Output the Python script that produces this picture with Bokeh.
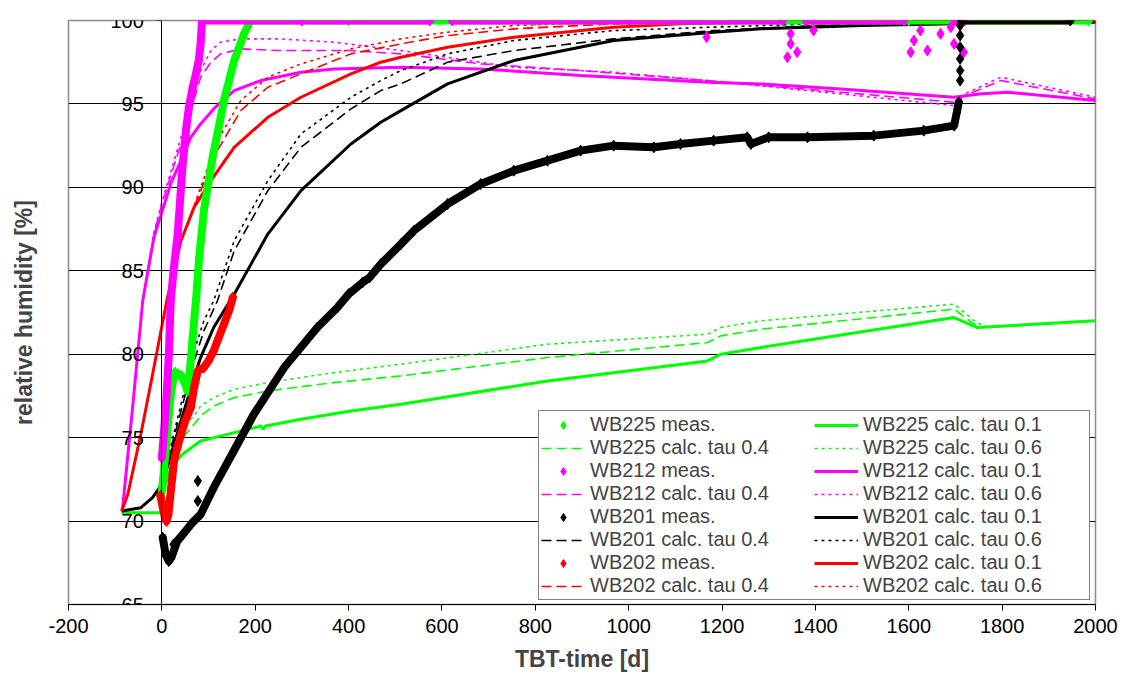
from bokeh.plotting import figure
from bokeh.models import Range1d, LinearAxis, FixedTicker, Legend, LegendItem, PrintfTickFormatter
from bokeh.embed import file_html
from bokeh.resources import INLINE

NaN = float("nan")

# ---------------- data ----------------
x_ticks = [-200, 0, 200, 400, 600, 800, 1000, 1200, 1400, 1600, 1800, 2000]
y_ticks = [65, 70, 75, 80, 85, 90, 95, 100]

# WB225 measured (green)
wb225_meas_x = [0, 3, 6, 10, 15, 20, 28, 35, 42, 50, 55, 60, 66, 73, 80, 90, 98, 110, 119, 133, 155, 176, 190,
                400, 800, 1200, 1600, 1985]
wb225_meas_y = [71.8, 72.6, 73.6, 74.8, 76.4, 77.8, 78.9, 78.8, 78.7, 78.2, 77.8, 79.0, 81.0, 83.2, 85.8, 88.6, 90.0,
                92.0, 93.2, 95.2, 97.6, 99.2, 100.0, 100.0, 100.0, 100.0, 100.0, 100.0]

# WB212 measured (magenta)
wb212_meas_x = [0, 5, 10, 15, 19, 25, 34, 44, 52, 58, 66, 73, 79, 83, 86, 300, 574, NaN, 622, 1000, 1330, NaN,
                1380, 1590, NaN, 1700, 1720]
wb212_meas_y = [73.8, 75.5, 77.5, 80.0, 83.2, 85.0, 87.2, 91.2, 93.5, 94.8, 96.0, 96.8, 97.6, 98.6, 100.0, 100.0,
                100.0, NaN, 100.0, 100.0, 100.0, NaN, 100.0, 100.0, NaN, 100.0, 100.0]
wb212_scatter_x = [1167, 1340, 1347, 1347, 1361, 1396, 1604, 1611, 1625, 1640, 1668, 1690, 1697, 1718]
wb212_scatter_y = [99.0, 97.8, 98.6, 99.2, 98.1, 99.4, 98.1, 98.8, 99.4, 98.2, 99.2, 99.6, 98.6, 98.1]

# WB201 measured (black)
wb201_meas_x = [2, 8, 15, 20, 33, 45, 62, 83, 111, 154, 197, 262, 333, 376, 400, 430, 445, 469, 512, 540, 612,
                683, 754, 826, 897, 968, 1054, 1111, 1182, 1254, 1262, 1300, 1383, 1525, 1632, 1697, 1703, 1707,
                NaN, 1712, 1946]
wb201_meas_y = [69.0, 68.0, 67.6, 67.8, 68.8, 69.2, 69.8, 70.4, 72.0, 74.2, 76.4, 79.2, 81.6, 82.8, 83.6, 84.3,
                84.6, 85.4, 86.6, 87.4, 89.0, 90.2, 91.0, 91.6, 92.2, 92.5, 92.4, 92.6, 92.8, 93.0, 92.6, 93.0,
                93.0, 93.1, 93.4, 93.7, 94.5, 95.1, NaN, 100.0, 100.0]
wb201_scatter_x = [77, 77, 25, 1710, 1710, 1710, 1710, 1710, 1710]
wb201_scatter_y = [72.4, 71.2, 68.6, 96.4, 97.0, 97.7, 98.4, 99.1, 99.7]

# WB202 measured (red)
wb202_meas_x = [-3, 2, 6, 10, 14, 20, 26, 33, 41, 50, 62, 69, 77, 90, 100, 111, 122, 133, 144, 152]
wb202_meas_y = [71.5, 70.8, 70.3, 70.0, 70.4, 72.0, 73.6, 74.4, 75.2, 76.0, 76.8, 78.0, 79.0, 79.2, 79.6, 80.2,
                81.0, 81.8, 82.6, 83.4]

# WB225 calculated
wb225_t01_x = [-86, -5, 0, 5, 19, 44, 83, 155, 212, 217, 222, 298, 405, 512, 826, 1169, 1197, 1283, 1697, 1747,
               1811, 2000]
wb225_t01_y = [70.5, 70.5, 70.6, 72.0, 73.2, 74.0, 74.8, 75.3, 75.7, 75.5, 75.7, 76.1, 76.6, 77.0, 78.4, 79.6,
               80.0, 80.4, 82.2, 81.6, 81.7, 82.0]
wb225_t04_x = [-86, 0, 5, 20, 45, 69, 83, 111, 155, 227, 369, 512, 826, 1169, 1197, 1283, 1697, 1740, 1760, 2000]
wb225_t04_y = [70.5, 70.5, 72.3, 74.0, 75.0, 75.8, 76.3, 76.9, 77.4, 77.8, 78.3, 78.7, 79.8, 80.7, 81.1, 81.5,
               82.7, 81.8, 81.6, 82.0]
wb225_t06_x = [-86, 0, 5, 20, 45, 69, 83, 111, 155, 227, 369, 512, 826, 1169, 1197, 1283, 1697, 1745, 1770, 2000]
wb225_t06_y = [70.5, 70.5, 72.4, 74.3, 75.6, 76.3, 76.9, 77.4, 77.9, 78.3, 78.9, 79.4, 80.6, 81.2, 81.6, 82.0,
               83.0, 81.9, 81.6, 82.0]

# WB212 calculated
wb212_t01_x = [-86, -84, -62, -41, -17, 0, 20, 41, 62, 83, 111, 126, 155, 212, 298, 369, 512, 683, 897, 1169,
               1283, 1454, 1697, 1750, 1811, 2000]
wb212_t01_y = [70.6, 70.8, 77.0, 83.2, 87.0, 88.5, 90.3, 91.6, 93.0, 93.8, 94.7, 95.1, 95.8, 96.4, 96.9, 97.1,
               97.2, 97.1, 96.7, 96.3, 96.2, 95.9, 95.4, 95.6, 95.7, 95.2]
wb212_t04_x = [-86, -84, -62, -41, -17, 0, 20, 41, 62, 83, 105, 126, 169, 250, 400, 512, 683, 897, 1169, 1454,
               1697, 1720, 1797, 2000]
wb212_t04_y = [70.6, 70.8, 77.0, 83.2, 87.2, 89.0, 90.8, 92.6, 94.6, 96.6, 97.5, 98.0, 98.3, 98.2, 98.2, 98.0,
               97.4, 97.0, 96.4, 95.7, 95.1, 95.5, 96.4, 95.3]
wb212_t06_x = [-86, -84, -62, -41, -17, 0, 20, 41, 62, 83, 105, 126, 169, 250, 369, 512, 754, 968, 1169, 1454,
               1697, 1720, 1797, 2000]
wb212_t06_y = [70.6, 70.8, 77.0, 83.2, 87.3, 89.1, 91.0, 93.0, 95.2, 97.0, 98.2, 98.7, 98.9, 98.9, 98.7, 98.2,
               97.2, 96.9, 96.4, 95.6, 94.9, 95.6, 96.6, 95.4]

# WB201 calculated
wb201_t01_x = [-86, -45, -20, 0, 20, 41, 69, 83, 111, 155, 227, 298, 405, 469, 512, 612, 754, 968, 1182, 1283,
               1500, 1700, 1710, 2000]
wb201_t01_y = [70.6, 70.8, 71.4, 72.2, 74.0, 76.0, 78.6, 79.8, 81.6, 83.6, 87.2, 89.8, 92.6, 93.9, 94.6, 96.2,
               97.6, 98.8, 99.3, 99.5, 99.7, 99.8, 99.9, 99.9]
wb201_t04_x = [-86, -45, -20, 0, 20, 41, 69, 90, 119, 155, 227, 298, 405, 469, 512, 612, 754, 968, 1182, 1400,
               1700, 2000]
wb201_t04_y = [70.6, 70.8, 71.4, 72.2, 74.4, 76.6, 79.6, 81.4, 83.2, 86.2, 89.8, 92.4, 94.7, 95.8, 96.2, 97.5,
               98.2, 98.9, 99.4, 99.7, 99.9, 99.9]
wb201_t06_x = [-86, -45, -20, 0, 20, 41, 69, 90, 111, 155, 227, 298, 405, 469, 512, 612, 754, 968, 1182, 1400,
               1700, 2000]
wb201_t06_y = [70.6, 70.8, 71.4, 72.2, 74.6, 77.0, 80.2, 82.0, 83.2, 86.8, 90.4, 93.2, 95.4, 96.4, 97.0, 98.0,
               98.8, 99.4, 99.6, 99.8, 99.9, 99.9]

# WB202 calculated
wb202_t01_x = [-86, -73, -45, -17, 5, 12, 41, 69, 105, 155, 227, 298, 405, 469, 512, 612, 754, 968, 1111, 1300,
               1960, 2000]
wb202_t01_y = [70.6, 71.6, 75.2, 79.2, 82.4, 83.4, 86.8, 88.8, 90.4, 92.4, 94.2, 95.4, 96.8, 97.5, 97.8, 98.4,
               99.0, 99.6, 99.8, 99.9, 100.0, 100.0]
wb202_t04_x = [-86, -73, -45, -17, 5, 12, 41, 69, 77, 119, 169, 227, 298, 405, 512, 612, 754, 968, 1200, 1960,
               2000]
wb202_t04_y = [70.6, 71.6, 75.2, 79.2, 82.4, 83.4, 86.8, 88.8, 89.4, 92.2, 94.6, 96.0, 96.8, 98.0, 98.6, 99.1,
               99.5, 99.8, 99.9, 100.0, 100.0]
wb202_t06_x = [-86, -73, -45, -17, 5, 12, 41, 69, 83, 119, 169, 227, 298, 405, 512, 612, 754, 968, 1200, 1960,
               2000]
wb202_t06_y = [70.6, 71.6, 75.2, 79.2, 82.4, 83.4, 86.8, 88.9, 90.0, 92.8, 95.2, 96.6, 97.4, 98.3, 98.9, 99.3,
               99.7, 99.9, 99.9, 100.0, 100.0]

# ---------------- styling ----------------
FONT = "Liberation Sans"
GREEN, MAGENTA, BLACK, RED = "#00FF00", "#FF00FF", "#000000", "#FF0000"

p = figure(width=1126, height=686, x_range=Range1d(-200, 2000), y_range=Range1d(65, 100),
           output_backend="svg", toolbar_location=None,
           min_border_left=68, min_border_right=31, min_border_top=20, min_border_bottom=82)
p.background_fill_color = "white"
p.border_fill_color = "white"
p.outline_line_color = "#8c8c8c"
p.outline_line_width = 1.5

# bottom axis
xa = p.xaxis[0]
xa.ticker = FixedTicker(ticks=x_ticks)
xa.formatter = PrintfTickFormatter(format="%d")
xa.axis_line_color = "black"
xa.major_tick_in = 0
xa.major_tick_out = 6
xa.minor_tick_line_color = None
xa.major_label_text_font = FONT
xa.major_label_text_font_size = "20px"
xa.major_label_text_color = "black"
xa.major_label_standoff = 8
xa.axis_label = "TBT-time [d]"
xa.axis_label_text_font = FONT
xa.axis_label_text_font_style = "bold"
xa.axis_label_text_font_size = "23px"
xa.axis_label_standoff = 10

# left axis: only the label
yl = p.yaxis[0]
yl.ticker = FixedTicker(ticks=[])
yl.axis_line_color = None
yl.major_tick_line_color = None
yl.minor_tick_line_color = None
yl.major_label_text_font_size = "0px"
yl.axis_label = "relative humidity [%]"
yl.axis_label_text_font = FONT
yl.axis_label_text_font_style = "bold"
yl.axis_label_text_font_size = "23px"
yl.axis_label_standoff = 32

# y axis crossing at x = 0
ya = LinearAxis(fixed_location=0, ticker=FixedTicker(ticks=y_ticks),
                formatter=PrintfTickFormatter(format="%d"),
                axis_line_color="black", axis_line_width=1,
                major_tick_in=0, major_tick_out=5, minor_tick_line_color=None,
                major_label_text_font=FONT, major_label_text_font_size="20px",
                major_label_text_color="black", major_label_standoff=13)
p.add_layout(ya, "left")

p.xgrid.visible = False
p.ygrid[0].ticker = FixedTicker(ticks=y_ticks)
p.ygrid.grid_line_color = "black"
p.ygrid.grid_line_width = 1

calc = [
    (GREEN, wb225_t01_x, wb225_t01_y, wb225_t04_x, wb225_t04_y, wb225_t06_x, wb225_t06_y),
    (MAGENTA, wb212_t01_x, wb212_t01_y, wb212_t04_x, wb212_t04_y, wb212_t06_x, wb212_t06_y),
    (BLACK, wb201_t01_x, wb201_t01_y, wb201_t04_x, wb201_t04_y, wb201_t06_x, wb201_t06_y),
    (RED, wb202_t01_x, wb202_t01_y, wb202_t04_x, wb202_t04_y, wb202_t06_x, wb202_t06_y),
]
calc_r = []
for col, x1, y1, x4, y4, x6, y6 in calc:
    r1 = p.line(x1, y1, line_color=col, line_width=3)
    r4 = p.line(x4, y4, line_color=col, line_width=1.6, line_dash="10 5")
    r6 = p.line(x6, y6, line_color=col, line_width=1.6, line_dash="3 4")
    calc_r.append((r1, r4, r6))

meas = [
    (GREEN, wb225_meas_x, wb225_meas_y, [], []),
    (MAGENTA, wb212_meas_x, wb212_meas_y, wb212_scatter_x, wb212_scatter_y),
    (BLACK, wb201_meas_x, wb201_meas_y, wb201_scatter_x, wb201_scatter_y),
    (RED, wb202_meas_x, wb202_meas_y, [], []),
]
meas_r = []
for col, mx, my, sx, sy in meas:
    p.line(mx, my, line_color=col, line_width=8, line_join="round", line_cap="round")
    r = p.scatter(mx, my, marker="diamond", size=11, fill_color=col, line_color=col)
    if sx:
        p.scatter(sx, sy, marker="diamond", size=11, fill_color=col, line_color=col)
    meas_r.append(r)

names = ["WB225", "WB212", "WB201", "WB202"]
items = []
for nm, rm, (r1, r4, r6) in zip(names, meas_r, calc_r):
    items.append(LegendItem(label=nm + " meas.", renderers=[rm]))
    items.append(LegendItem(label=nm + " calc. tau 0.1", renderers=[r1]))
    items.append(LegendItem(label=nm + " calc. tau 0.4", renderers=[r4]))
    items.append(LegendItem(label=nm + " calc. tau 0.6", renderers=[r6]))

legend = Legend(items=items, orientation="horizontal", ncols=2, location=(470, 4),
                margin=0, padding=2, spacing=0, label_standoff=5,
                glyph_width=44, glyph_height=20, label_height=20, label_width=224,
                label_text_font=FONT, label_text_font_size="20px",
                border_line_color="black", border_line_width=1,
                background_fill_color="white", background_fill_alpha=1.0)
p.add_layout(legend)

open("out.html", "w").write(file_html(p, INLINE))
